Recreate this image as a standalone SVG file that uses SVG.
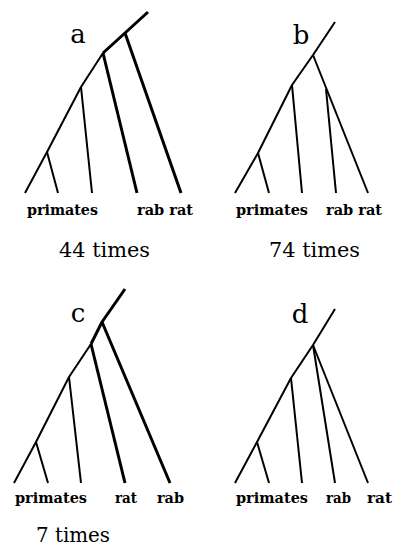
<svg xmlns="http://www.w3.org/2000/svg" width="394" height="549" viewBox="0 0 394 549">
<style>
.thin{fill:none;stroke:#000;stroke-width:2;stroke-linejoin:round;stroke-linecap:butt}
.thick{fill:none;stroke:#000;stroke-width:3;stroke-linejoin:round;stroke-linecap:butt}
.lab{font-family:"DejaVu Serif","Liberation Serif",serif;font-weight:bold;font-size:15.5px;fill:#000}
.cnt{font-family:"DejaVu Serif","Liberation Serif",serif;font-size:21px;fill:#000}
.let{font-family:"DejaVu Serif","Liberation Serif",serif;font-size:26px;fill:#000}
</style>
<rect width="394" height="549" fill="#fff"/>
<g id="connectors">
  <!-- panel a -->
  <polyline class="thick" points="148,12 125,33 103,53"/>
  <polyline class="thin" points="103,53 81,87 47,152 25,193"/>
  <line class="thick" x1="125" y1="33" x2="181" y2="193"/>
  <line class="thick" x1="103" y1="53" x2="137" y2="193"/>
  <line class="thin" x1="81" y1="87" x2="92" y2="193"/>
  <line class="thin" x1="47" y1="152" x2="58" y2="193"/>
  <!-- panel b -->
  <polyline class="thin" points="335,22 313,55 292,85 258,153 235,193"/>
  <line class="thin" x1="313" y1="55" x2="368" y2="193"/>
  <line class="thin" x1="326" y1="89" x2="336" y2="193"/>
  <line class="thin" x1="292" y1="85" x2="302" y2="193"/>
  <line class="thin" x1="258" y1="153" x2="269" y2="193"/>
  <!-- panel c -->
  <polyline class="thick" points="125,289 102,322 91,344"/>
  <polyline class="thin" points="91,344 69,377 36,442 14,483"/>
  <line class="thick" x1="102" y1="322" x2="170" y2="483"/>
  <line class="thick" x1="91" y1="344" x2="125" y2="483"/>
  <line class="thin" x1="69" y1="377" x2="81" y2="483"/>
  <line class="thin" x1="36" y1="442" x2="48" y2="483"/>
  <!-- panel d -->
  <polyline class="thin" points="335,309 313,345 291,378 257,442 235,483"/>
  <line class="thin" x1="313" y1="345" x2="335" y2="483"/>
  <line class="thin" x1="313" y1="345" x2="368" y2="483"/>
  <line class="thin" x1="291" y1="378" x2="302" y2="483"/>
  <line class="thin" x1="257" y1="442" x2="269" y2="483"/>
</g>
<g id="panel-a">
  <text class="let" x="78" y="43" text-anchor="middle">a</text>
  <text class="lab" x="27" y="215" textLength="71" lengthAdjust="spacingAndGlyphs">primates</text>
  <text class="lab" x="137" y="215" textLength="56" lengthAdjust="spacingAndGlyphs">rab rat</text>
  <text class="cnt" x="59" y="257" textLength="91" lengthAdjust="spacingAndGlyphs">44 times</text>
</g>
<g id="panel-b">
  <text class="let" x="301" y="44" text-anchor="middle">b</text>
  <text class="lab" x="236" y="215" textLength="72" lengthAdjust="spacingAndGlyphs">primates</text>
  <text class="lab" x="326" y="215" textLength="56" lengthAdjust="spacingAndGlyphs">rab rat</text>
  <text class="cnt" x="269" y="257" textLength="91" lengthAdjust="spacingAndGlyphs">74 times</text>
</g>
<g id="panel-c">
  <text class="let" x="78" y="322" text-anchor="middle">c</text>
  <text class="lab" x="15" y="503" textLength="72" lengthAdjust="spacingAndGlyphs">primates</text>
  <text class="lab" x="115" y="503" textLength="22" lengthAdjust="spacingAndGlyphs">rat</text>
  <text class="lab" x="157" y="503" textLength="27" lengthAdjust="spacingAndGlyphs">rab</text>
  <text class="cnt" x="36" y="542" textLength="74" lengthAdjust="spacingAndGlyphs">7 times</text>
</g>
<g id="panel-d">
  <text class="let" x="300" y="323" text-anchor="middle">d</text>
  <text class="lab" x="236" y="503" textLength="72" lengthAdjust="spacingAndGlyphs">primates</text>
  <text class="lab" x="326" y="503" textLength="25" lengthAdjust="spacingAndGlyphs">rab</text>
  <text class="lab" x="367" y="503" textLength="25" lengthAdjust="spacingAndGlyphs">rat</text>
</g>
</svg>
